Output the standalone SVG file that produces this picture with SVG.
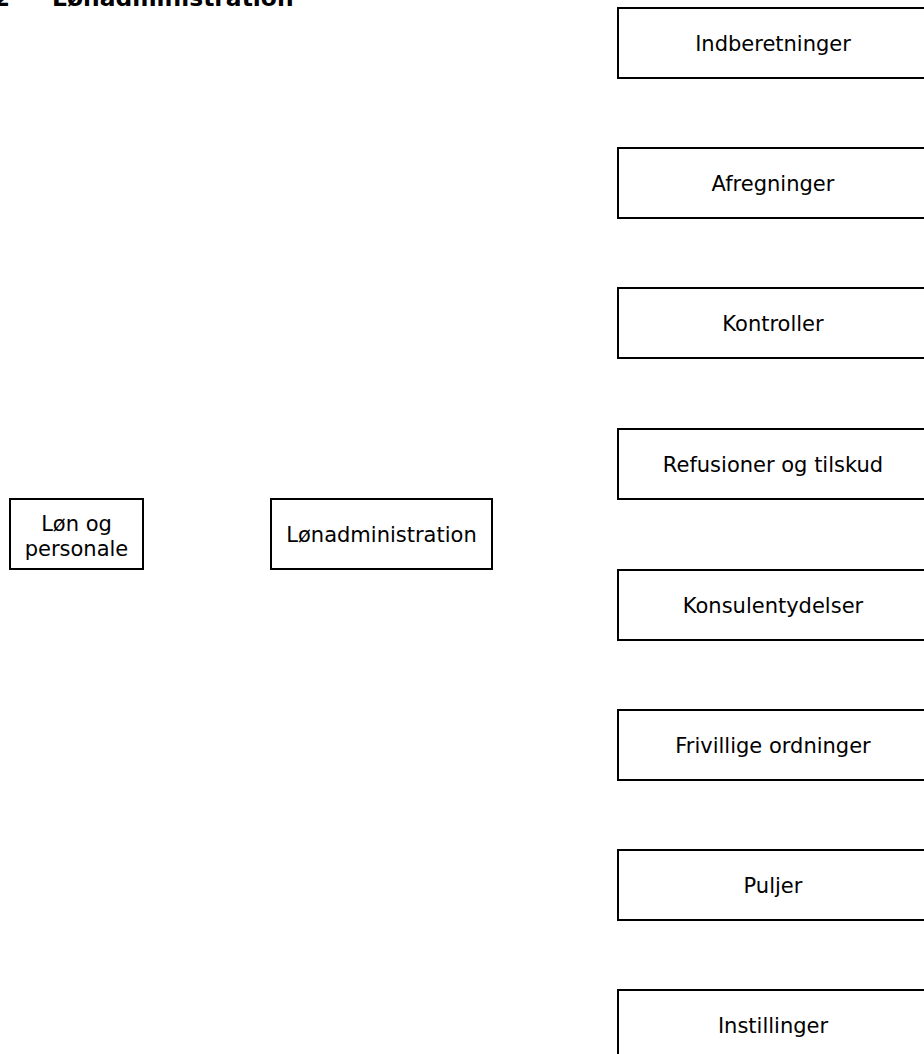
<svg xmlns="http://www.w3.org/2000/svg" width="924" height="1054" viewBox="0 0 924 1054">
<style>
.box{fill:#fff;stroke:#000;stroke-width:2}
.t{font-family:"DejaVu Sans",Verdana,sans-serif;font-size:21px;fill:#000;text-anchor:middle}
.h{font-family:"DejaVu Sans",Verdana,sans-serif;font-size:23.4px;font-weight:bold;fill:#000}
</style>
<rect width="924" height="1054" fill="#fff"/>
<g id="title">
<text class="h" x="10" y="6" text-anchor="end">1.2</text>
<text class="h" x="52" y="6">Lønadministration</text>
</g>
<g id="connectors"></g>
<g id="n-lon-personale">
<rect class="box" x="10" y="499" width="133" height="70"/>
<text class="t" x="76.5" y="531">Løn og</text>
<text class="t" x="76.5" y="556">personale</text>
</g>
<g id="n-lonadministration">
<rect class="box" x="271" y="499" width="221" height="70"/>
<text class="t" x="381.5" y="542">Lønadministration</text>
</g>
<g id="n-indberetninger">
<rect class="box" x="618" y="8" width="312" height="70"/>
<text class="t" x="773" y="51">Indberetninger</text>
</g>
<g id="n-afregninger">
<rect class="box" x="618" y="148" width="312" height="70"/>
<text class="t" x="773" y="191">Afregninger</text>
</g>
<g id="n-kontroller">
<rect class="box" x="618" y="288" width="312" height="70"/>
<text class="t" x="773" y="331">Kontroller</text>
</g>
<g id="n-refusioner">
<rect class="box" x="618" y="429" width="312" height="70"/>
<text class="t" x="773" y="472">Refusioner og tilskud</text>
</g>
<g id="n-konsulentydelser">
<rect class="box" x="618" y="570" width="312" height="70"/>
<text class="t" x="773" y="613">Konsulentydelser</text>
</g>
<g id="n-frivillige">
<rect class="box" x="618" y="710" width="312" height="70"/>
<text class="t" x="773" y="753">Frivillige ordninger</text>
</g>
<g id="n-puljer">
<rect class="box" x="618" y="850" width="312" height="70"/>
<text class="t" x="773" y="893">Puljer</text>
</g>
<g id="n-instillinger">
<rect class="box" x="618" y="990" width="312" height="70"/>
<text class="t" x="773" y="1033">Instillinger</text>
</g>
</svg>
